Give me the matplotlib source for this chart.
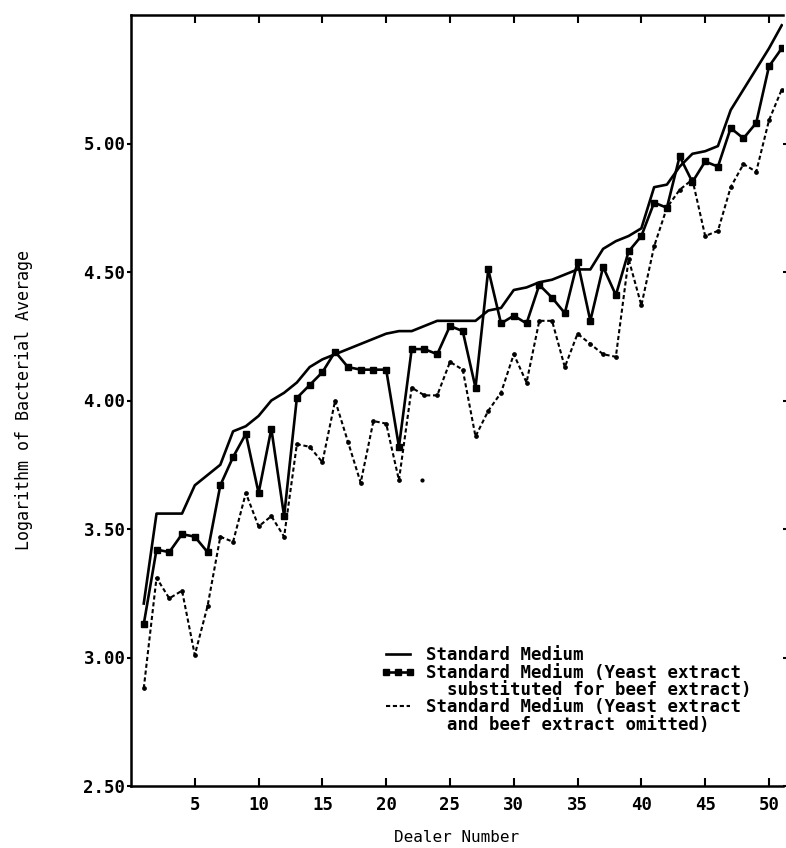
import numpy as np
import matplotlib
matplotlib.use('Agg')
import matplotlib.pyplot as plt
from matplotlib.lines import Line2D

# data (dealer 1..51)
dealer = np.arange(1, 52)

standard = [3.21, 3.56, 3.56, 3.56, 3.67, 3.71, 3.75, 3.88, 3.90, 3.94,
            4.00, 4.03, 4.07, 4.13, 4.16, 4.18, 4.20, 4.22, 4.24, 4.26,
            4.27, 4.27, 4.29, 4.31, 4.31, 4.31, 4.31, 4.35, 4.36, 4.43,
            4.44, 4.46, 4.47, 4.49, 4.51, 4.51, 4.59, 4.62, 4.64, 4.67,
            4.83, 4.84, 4.91, 4.96, 4.97, 4.99, 5.13, 5.21, 5.29, 5.37,
            5.46]

yeast_subst = [3.13, 3.42, 3.41, 3.48, 3.47, 3.41, 3.67, 3.78, 3.87, 3.64,
               3.89, 3.55, 4.01, 4.06, 4.11, 4.19, 4.13, 4.12, 4.12, 4.12,
               3.82, 4.20, 4.20, 4.18, 4.29, 4.27, 4.05, 4.51, 4.30, 4.33,
               4.30, 4.45, 4.40, 4.34, 4.54, 4.31, 4.52, 4.41, 4.58, 4.64,
               4.77, 4.75, 4.95, 4.85, 4.93, 4.91, 5.06, 5.02, 5.08, 5.30,
               5.37]

omitted = [2.88, 3.31, 3.23, 3.26, 3.01, 3.20, 3.47, 3.45, 3.64, 3.51,
           3.55, 3.47, 3.83, 3.82, 3.76, 4.00, 3.84, 3.68, 3.92, 3.91,
           3.69, 4.05, 4.02, 4.02, 4.15, 4.12, 3.86, 3.96, 4.03, 4.18,
           4.07, 4.31, 4.31, 4.13, 4.26, 4.22, 4.18, 4.17, 4.55, 4.37,
           4.60, 4.75, 4.82, 4.86, 4.64, 4.66, 4.83, 4.92, 4.89, 5.09,
           5.21]

# lone stray point on the original sheet
stray_x = [22.8]
stray_y = [3.69]

xticks = [5, 10, 15, 20, 25, 30, 35, 40, 45, 50]
yticks = [2.5, 3.0, 3.5, 4.0, 4.5, 5.0]
ytick_labels = ['2.50', '3.00', '3.50', '4.00', '4.50', '5.00']

legend_labels = ['Standard Medium',
                 'Standard Medium (Yeast extract',
                 '  substituted for beef extract)',
                 'Standard Medium (Yeast extract',
                 '  and beef extract omitted)']

plt.rcParams['font.family'] = ['DejaVu Sans Mono', 'Liberation Mono']
plt.rcParams['font.weight'] = 'bold'

fig = plt.figure(figsize=(7.86, 8.48), dpi=100)
ax = fig.add_axes([131/786, 62/848, 652/786, 771/848])

ax.plot(dealer, standard, color='black', lw=1.9)
ax.plot(dealer, yeast_subst, color='black', lw=1.9, marker='s', ms=4)
ax.plot(dealer, omitted, color='black', lw=1.5, linestyle=(0, (2, 1.3)),
        marker='o', ms=2.4)
ax.plot(stray_x, stray_y, 'o', color='black', ms=2)

ax.set_xlim(0, 51.1)
ax.set_ylim(2.5, 5.5)

ax.set_xticks(xticks)
ax.set_xticklabels([str(t) for t in xticks])
ax.set_yticks(yticks)
ax.set_yticklabels(ytick_labels)

ax.tick_params(axis='x', direction='in', length=6, width=1.5, labelsize=12.5,
               pad=7, top=True)
ax.tick_params(axis='y', direction='out', length=3, width=1.5, labelsize=12.5,
               pad=1)
ax.tick_params(axis='y', which='both', right=True)

for side in ['left', 'bottom', 'top']:
    ax.spines[side].set_linewidth(1.8)
ax.spines['right'].set_visible(False)

ax.set_xlabel('Dealer Number', fontsize=11.5, labelpad=12)
ax.set_ylabel('Logarithm of Bacterial Average', fontsize=12, labelpad=36)

handles = [Line2D([], [], color='black', lw=1.9),
           Line2D([], [], color='black', lw=1.9, marker='s', ms=4),
           Line2D([], [], color='none'),
           Line2D([], [], color='black', lw=1.5, linestyle=(0, (2, 1.3))),
           Line2D([], [], color='none')]
ax.legend(handles, legend_labels, loc='upper left',
          bbox_to_anchor=(0.372, 0.190), frameon=False, fontsize=12.5,
          handlelength=2.0, handletextpad=0.6, labelspacing=-0.04,
          numpoints=3, borderaxespad=0)

fig.savefig('out.png', dpi=100)
